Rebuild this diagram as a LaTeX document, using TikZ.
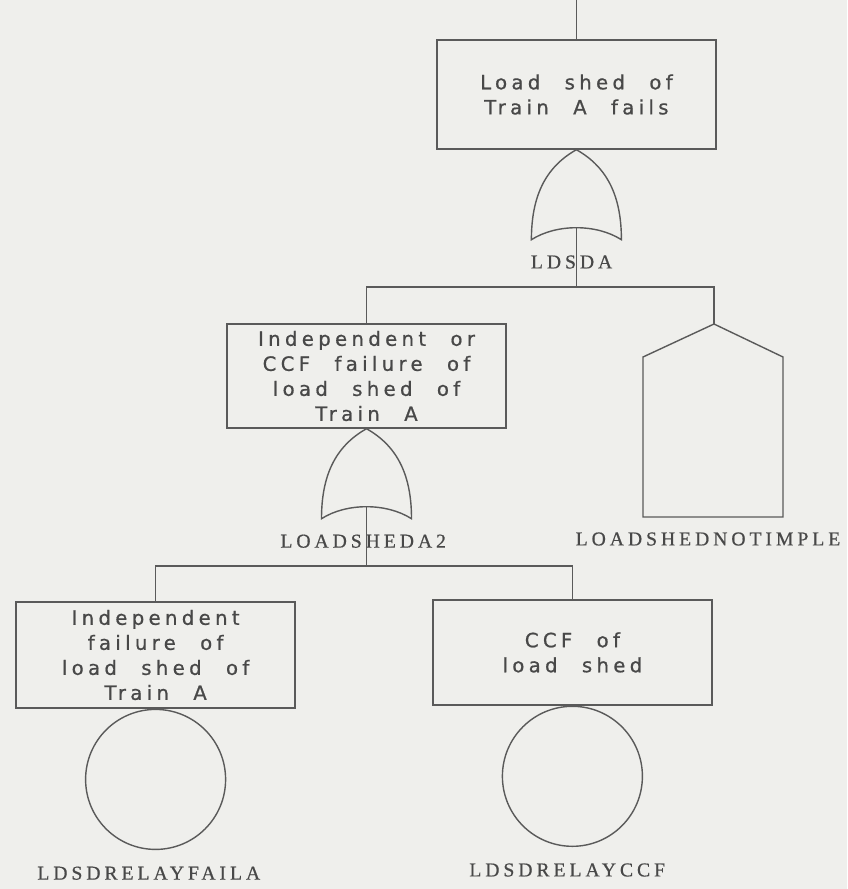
\documentclass[tikz,border=0pt]{standalone}
\usepackage{fontspec}
\usepackage{tikz}
\usetikzlibrary{positioning, calc}
\usepackage{xcolor}
\definecolor{ftpaper}{HTML}{EFEFEC}
\definecolor{ftink}{HTML}{5A5A5A}
\definecolor{fttext}{HTML}{484848}
\newfontfamily\boxfont{DejaVu Sans}[LetterSpace=22, WordSpace=2.3, FakeBold=0.8]
\newfontfamily\tagfont{Liberation Serif}[LetterSpace=20, FakeBold=0.6]
\newcommand\boxtext{\boxfont\fontsize{14}{17.8}\selectfont}
\newcommand\tagtext{\tagfont\fontsize{14}{17}\selectfont}

\tikzset{
  eventbox/.style={draw=ftink, line width=1pt, text=fttext, font=\boxtext,
                   align=center, minimum width=6.975cm, minimum height=2.65cm, inner sep=0pt},
  basicev/.style={draw=ftink, line width=1pt, circle, minimum size=3.5cm, inner sep=0pt},
  tag/.style={text=fttext, font=\tagtext, inner sep=0pt},
  wire/.style={draw=ftink, line width=1pt},
  % OR gate, tip at the origin, input point (-in) on its back
  orgate/.pic={
    \draw[wire] (0,0) .. controls (-0.8,-0.45) and (-1.125,-1.2) .. (-1.125,-2.25)
          .. controls (-0.5,-1.85) and (0.5,-1.85) .. (1.125,-2.25)
          .. controls (1.125,-1.2) and (0.8,-0.45) .. (0,0) -- cycle;
    \coordinate (-in) at (0,-1.95);
  }
}

\begin{document}
\begin{tikzpicture}
  \fill[ftpaper] (0,0) rectangle (21.175,-22.225);
  \useasboundingbox (0,0) rectangle (21.175,-22.225);

  % top event
  \coordinate (top) at (14.41,0);
  \node[eventbox, minimum height=2.725cm] (loadsheda) at (14.41,-2.3625)
        {Load shed of\\Train A fails};
  \draw[wire] (top) -- (loadsheda);
  \pic (g1) at (loadsheda.south) {orgate};
  \node[tag] (ldsda) at (14.29,-6.55) {LDSDA};

  % second level
  \node[eventbox, minimum height=2.6cm] (loadsheda2) at (9.1625,-9.4)
        {Independent or\\CCF failure of\\load shed of\\Train A};
  \coordinate (hex) at (17.85,-8.1);
  \draw[wire] (hex) -- (19.575,-8.925) -- (19.575,-12.925) -- (16.075,-12.925)
        -- (16.075,-8.925) -- cycle;
  \node[tag] (notimple) at (17.7,-13.475) {LOADSHEDNOTIMPLE};

  \coordinate (bus1) at (g1-in |- 0,-7.175);
  \draw[wire] (g1-in) -- (bus1);
  \draw[wire] (loadsheda2.north) |- (bus1) -| (hex);

  \pic (g2) at (loadsheda2.south) {orgate};
  \node[tag] (lbla2) at (9.08,-13.53) {LOADSHEDA2};

  % bottom level
  \node[eventbox] (indep) at (3.89,-16.375)
        {Independent\\failure of\\load shed of\\Train A};
  \node[eventbox, minimum height=2.625cm] (ccf) at (14.31,-16.31)
        {CCF of\\load shed};
  \coordinate (bus2) at (g2-in |- 0,-14.15);
  \draw[wire] (g2-in) -- (bus2);
  \draw[wire] (indep.north) |- (bus2) -| (ccf.north);

  \node[basicev, anchor=north] (relaya) at (indep.south) {};
  \node[tag] (lblrelaya) at (3.72,-21.83) {LDSDRELAYFAILA};
  \node[basicev, anchor=north] (relayccf) at (ccf.south) {};
  \node[tag] (lblrelayccf) at (14.18,-21.75) {LDSDRELAYCCF};
\end{tikzpicture}
\end{document}
